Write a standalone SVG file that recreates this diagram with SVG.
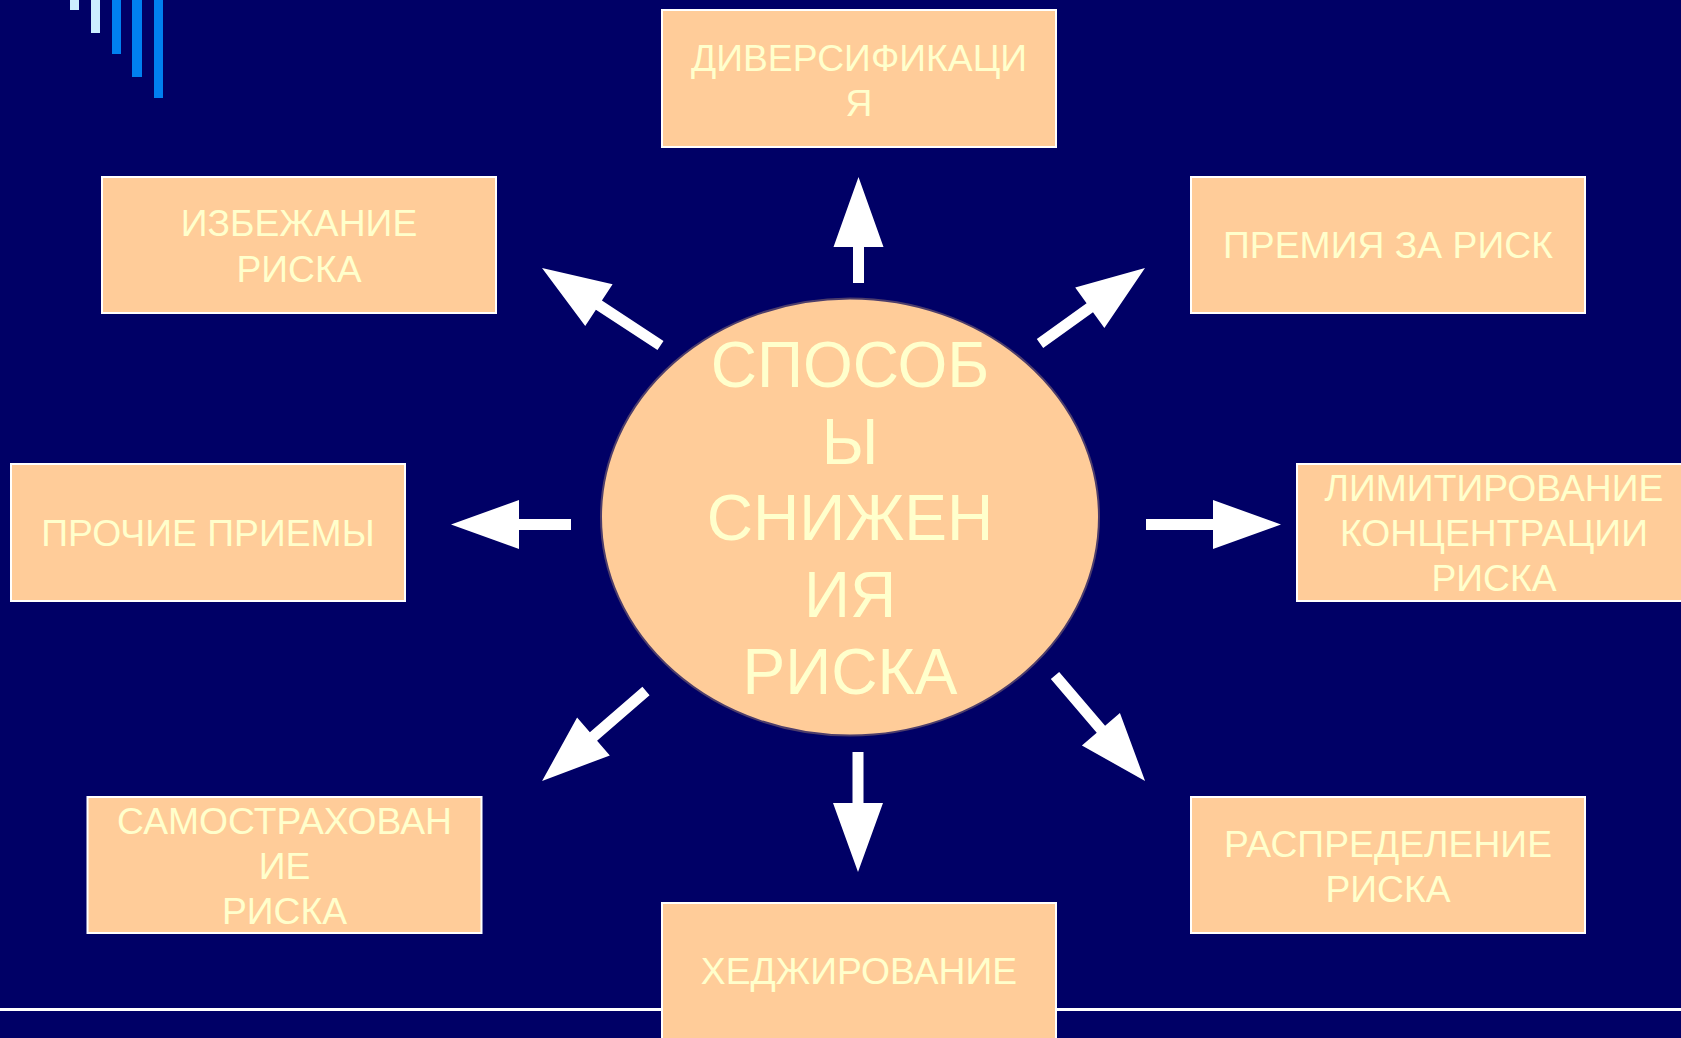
<svg xmlns="http://www.w3.org/2000/svg" width="1681" height="1038" viewBox="0 0 1681 1038">
<style>
.box{fill:#ffcc99;stroke:#ffffff;stroke-width:2}
.t{font-family:"Liberation Sans",Arial,sans-serif;font-size:37.3px;fill:#ffffcc;text-anchor:middle}
.big{font-family:"Liberation Sans",Arial,sans-serif;font-size:64px;fill:#ffffcc;text-anchor:middle}
.arr{fill:#ffffff}
</style>
<rect x="0" y="0" width="1681" height="1038" fill="#000066"/>
<g id="decor">
<rect x="70" y="0" width="9" height="10" fill="#cceeff"/>
<rect x="91" y="0" width="9" height="33" fill="#cceeff"/>
<rect x="112" y="0" width="9" height="54" fill="#0080f0"/>
<rect x="132" y="0" width="10" height="77" fill="#0080f0"/>
<rect x="154" y="0" width="9" height="98" fill="#0080f0"/>
<line x1="0" y1="1009.5" x2="1681" y2="1009.5" stroke="#ffffff" stroke-width="3"/>
</g>
<g id="center">
<ellipse cx="850" cy="517" rx="249" ry="218.5" fill="#ffcc99" stroke="#4d3d6b" stroke-width="2"/>
<text class="big" x="850" y="387">СПОСОБ</text>
<text class="big" x="850" y="464">Ы</text>
<text class="big" x="850" y="540">СНИЖЕН</text>
<text class="big" x="850" y="617">ИЯ</text>
<text class="big" x="850" y="694">РИСКА</text>
</g>
<g id="diversifikatsiya">
<rect class="box" x="662" y="10" width="394" height="137"/>
<text class="t" x="859" y="71">ДИВЕРСИФИКАЦИ</text>
<text class="t" x="859" y="116">Я</text>
</g>
<g id="izbezhanie">
<rect class="box" x="102" y="177" width="394" height="136"/>
<text class="t" x="299" y="236">ИЗБЕЖАНИЕ</text>
<text class="t" x="299" y="282">РИСКА</text>
</g>
<g id="premiya">
<rect class="box" x="1191" y="177" width="394" height="136"/>
<text class="t" x="1388" y="258">ПРЕМИЯ ЗА РИСК</text>
</g>
<g id="prochie">
<rect class="box" x="11" y="464" width="394" height="137"/>
<text class="t" x="208" y="546">ПРОЧИЕ ПРИЕМЫ</text>
</g>
<g id="limitirovanie">
<rect class="box" x="1297" y="464" width="394" height="137"/>
<text class="t" x="1494" y="501">ЛИМИТИРОВАНИЕ</text>
<text class="t" x="1494" y="546">КОНЦЕНТРАЦИИ</text>
<text class="t" x="1494" y="591">РИСКА</text>
</g>
<g id="samostrakhovanie">
<rect class="box" x="87.5" y="797" width="394" height="136"/>
<text class="t" x="284.5" y="834">САМОСТРАХОВАН</text>
<text class="t" x="284.5" y="879">ИЕ</text>
<text class="t" x="284.5" y="924">РИСКА</text>
</g>
<g id="raspredelenie">
<rect class="box" x="1191" y="797" width="394" height="136"/>
<text class="t" x="1388" y="857">РАСПРЕДЕЛЕНИЕ</text>
<text class="t" x="1388" y="902">РИСКА</text>
</g>
<g id="khedzhirovanie">
<rect class="box" x="662" y="903" width="394" height="145"/>
<text class="t" x="859" y="984">ХЕДЖИРОВАНИЕ</text>
</g>
<g id="connectors">
<polygon class="arr" transform="translate(858.5,283) rotate(-90)" points="0,-5.5 36,-5.5 36,-25 106,0 36,25 36,5.5 0,5.5"/>
<polygon class="arr" transform="translate(660.5,345.5) rotate(-146.8)" points="0,-5.5 73.6,-5.5 73.6,-25 141.6,0 73.6,25 73.6,5.5 0,5.5"/>
<polygon class="arr" transform="translate(1040,343.5) rotate(-35.7)" points="0,-5.5 61.3,-5.5 61.3,-25 129.3,0 61.3,25 61.3,5.5 0,5.5"/>
<polygon class="arr" transform="translate(571,524.5) rotate(180)" points="0,-5.5 52,-5.5 52,-24.5 120,0 52,24.5 52,5.5 0,5.5"/>
<polygon class="arr" transform="translate(1146,524.5)" points="0,-5.5 67,-5.5 67,-24.5 135,0 67,24.5 67,5.5 0,5.5"/>
<polygon class="arr" transform="translate(646,691) rotate(139.1)" points="0,-5.5 69.5,-5.5 69.5,-25 137.5,0 69.5,25 69.5,5.5 0,5.5"/>
<polygon class="arr" transform="translate(1055,675.5) rotate(49.5)" points="0,-5.5 70.7,-5.5 70.7,-25 138.7,0 70.7,25 70.7,5.5 0,5.5"/>
<polygon class="arr" transform="translate(858,752) rotate(90)" points="0,-5.5 51,-5.5 51,-25 120,0 51,25 51,5.5 0,5.5"/>
</g>
</svg>
